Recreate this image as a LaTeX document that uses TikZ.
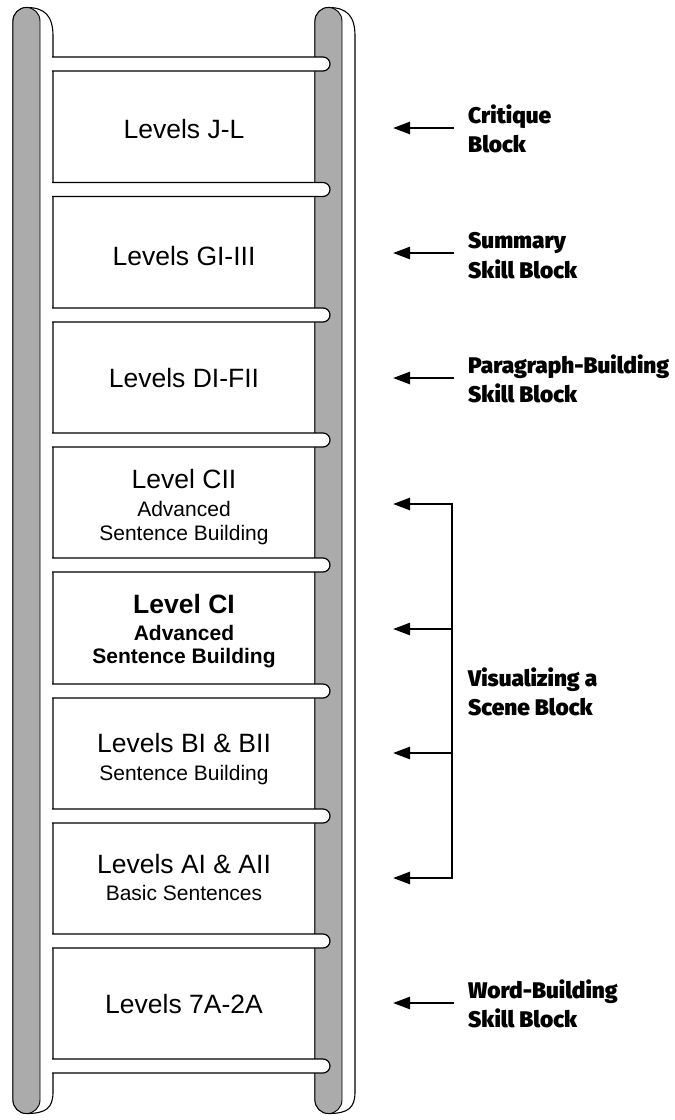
\documentclass[tikz,border=0pt]{standalone}
\usepackage{fontspec}
\setmainfont{Liberation Sans}
\newfontfamily\blockfont{Fira Sans Black}
\usetikzlibrary{arrows.meta}
\begin{document}
\begin{tikzpicture}[x=1pt,y=-1pt,
  railfill/.style={fill=black!33, draw=black, line width=0.9pt},
  railside/.style={fill=white, draw=black, line width=1.1pt},
  rungstyle/.style={fill=white, draw=black, line width=1.2pt},
  lvl/.style={inner sep=0pt, anchor=base, font=\fontsize{26.5}{30}\selectfont},
  lvlb/.style={lvl, font=\fontsize{26.5}{30}\selectfont\bfseries},
  sub/.style={inner sep=0pt, anchor=base, font=\fontsize{21}{24}\selectfont},
  subb/.style={sub, font=\fontsize{21}{24}\selectfont\bfseries},
  blk/.style={inner sep=0pt, anchor=base west, font=\blockfont\fontsize{22.6}{28}\selectfont},
  arr/.style={line width=2.5pt, -{Triangle[length=17pt,width=12pt]}},
  barline/.style={line width=2.5pt, line cap=rect}]
\useasboundingbox (0,0) rectangle (675,1120);
% rails
\foreach \dx in {0,302}{
  \begin{scope}[xshift=\dx pt]
    \path[railside] (13,1100) -- (13,21) arc[start angle=180,end angle=270,radius=13.5]
      .. controls (45,7.5) and (53,16) .. (53,36) -- (53,1092)
      .. controls (53,1108) and (46,1113.5) .. (26.5,1113.5)
      arc[start angle=90,end angle=180,radius=13.5] -- cycle;
    \path[railfill] (13,1100) -- (13,21) arc[start angle=180,end angle=360,radius=13.5]
      -- (40,1100) arc[start angle=0,end angle=180,radius=13.5] -- cycle;
  \end{scope}
}
% rungs
\foreach \y in {64,189.5,315,440,565,691,816,941,1066}{
  \draw[rungstyle] (52,\y-7) -- (323,\y-7) arc[start angle=270,end angle=450,radius=7] -- (52,\y+7);
}
% level texts
\node[lvl] (jl) at (184,138) {Levels J-L};
\node[lvl] (gi) at (184,265) {Levels GI-III};
\node[lvl] (di) at (184,387) {Levels DI-FII};
\node[lvl] (cii) at (184,488) {Level CII};
\node[sub] (cii2) at (184,516) {Advanced};
\node[sub] (cii3) at (184,540) {Sentence Building};
\node[lvlb] (ci) at (184,613) {Level CI};
\node[subb] (ci2) at (184,640) {Advanced};
\node[subb] (ci3) at (184,663) {Sentence Building};
\node[lvl] (bi) at (184,752) {Levels BI \& BII};
\node[sub] (bi2) at (184,780) {Sentence Building};
\node[lvl] (ai) at (184,873) {Levels AI \& AII};
\node[sub] (ai2) at (184,900) {Basic Sentences};
\node[lvl] (sa) at (184,1013) {Levels 7A-2A};
% block labels
\node[blk] (crit1) at (468,123) {Critique};
\node[blk] (crit2) at (468,152) {Block};
\node[blk] (sum1) at (468,248) {Summary};
\node[blk] (sum2) at (468,278) {Skill Block};
\node[blk] (par1) at (468,373) {Paragraph-Building};
\node[blk] (par2) at (468,402) {Skill Block};
\node[blk] (vis1) at (468,686) {Visualizing a};
\node[blk] (vis2) at (468,715) {Scene Block};
\node[blk] (wb1) at (468,998) {Word-Building};
\node[blk] (wb2) at (468,1027) {Skill Block};
% arrow coordinates
\coordinate (cs) at (454,128);  \coordinate (ce) at (393,128);
\coordinate (ss) at (454,253);  \coordinate (se) at (393,253);
\coordinate (ps) at (454,378);  \coordinate (pe) at (393,378);
\coordinate (ws) at (454,1003); \coordinate (we) at (393,1003);
\coordinate (v1) at (452,504);  \coordinate (t1) at (393,504);
\coordinate (v2) at (452,629);  \coordinate (t2) at (393,629);
\coordinate (v3) at (452,753);  \coordinate (t3) at (393,753);
\coordinate (v4) at (452,878);  \coordinate (t4) at (393,878);
\draw[arr] (cs) -- (ce);
\draw[arr] (ss) -- (se);
\draw[arr] (ps) -- (pe);
\draw[arr] (ws) -- (we);
\draw[barline] (v1) -- (v4);
\draw[arr] (v1) -- (t1);
\draw[arr] (v2) -- (t2);
\draw[arr] (v3) -- (t3);
\draw[arr] (v4) -- (t4);
\end{tikzpicture}
\end{document}
